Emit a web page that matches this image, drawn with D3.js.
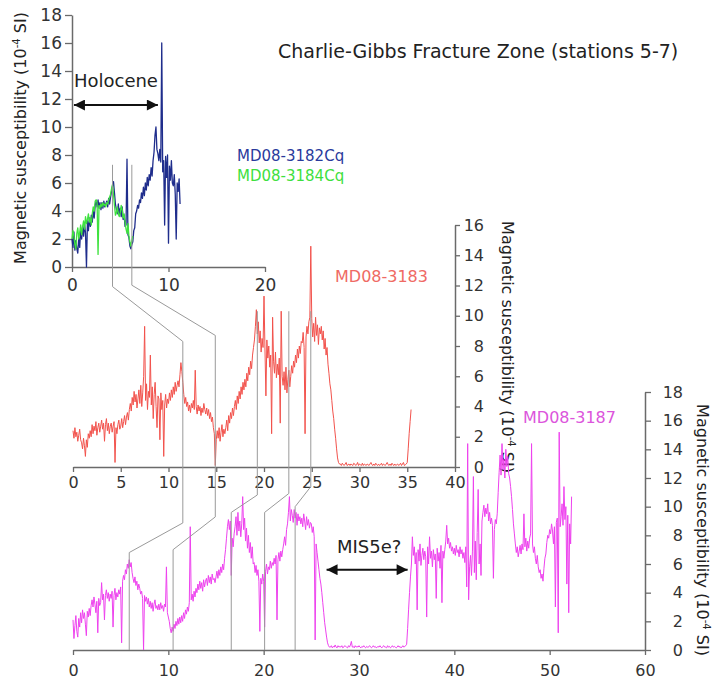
<!DOCTYPE html>
<html><head><meta charset="utf-8">
<script src="https://cdn.jsdelivr.net/npm/d3@7"></script>
<style>
body{margin:0;background:#fff;}
svg{display:block;font-family:"DejaVu Sans",Verdana,sans-serif;}
</style></head><body>
<svg id="chart" width="713" height="679"></svg>
<script>
// ---------- data ----------
const topTicksX = [0, 10, 20];
const topTicksY = [0, 2, 4, 6, 8, 10, 12, 14, 16, 18];
const midTicksX = [0, 5, 10, 15, 20, 25, 30, 35, 40];
const midTicksY = [0, 2, 4, 6, 8, 10, 12, 14, 16];
const botTicksX = [0, 10, 20, 30, 40, 50, 60];
const botTicksY = [0, 2, 4, 6, 8, 10, 12, 14, 16, 18];

// MD08-3182Cq (depth step 0.1 m from 0)
const step3182 = 0.1;
const md3182 = [
 2.0,1.4,2.5,1.2,1.9,1.3,
 1.0,2.1,1.4,2.7,2.0, 2.9,2.2,3.1,2.4,0.0, 3.3,2.6,3.5,2.9,3.7,
 3.2,4.0,3.5,4.4,4.7, 4.3,4.8,4.2,4.6,4.1, 4.6,4.2,4.7,4.3,4.5,
 4.7,4.3,4.9,4.5,5.0, 5.4,5.8,6.1,5.3,4.5, 4.1,3.8,4.5,3.7,4.2,
 3.6,4.3,3.4,3.7,2.9, 3.0,7.7,2.3,2.1,1.5, 1.3,1.6,1.8,2.6,2.8,
 3.8,4.0,4.4,4.2,4.8, 4.6,5.3,4.9,5.7,5.1, 6.0,5.5,6.4,5.8,6.6,
 6.2,7.1,6.5,7.6,8.2, 9.4,10.0,8.4,8.1,7.6, 8.4,7.5,16.0,6.8,7.6,
 3.0,7.9,6.4,8.0,1.7, 7.2,6.2,7.6,6.0,5.8, 6.6,5.2,2.0,6.0,5.4,
 6.3,4.5
];
// MD08-3184Cq (depth step 0.1 m from 0)
const step3184 = 0.1;
const md3184 = [
 2.0,2.6,2.2,1.6,1.3,2.4,
 2.8,2.0,2.5,3.0,2.3, 2.9,3.3,2.7,3.6,3.1, 3.4,3.8,3.2,3.5,3.0,
 3.8,4.3,4.0,4.7,4.8, 4.6,0.9,4.4,4.2,4.5, 4.3,4.6,4.4,4.5,4.3,
 4.6,4.5,4.8,5.0,5.2, 5.6,5.9,5.2,4.4,3.7, 3.9,4.3,3.8,3.6,3.9,
 4.4,4.1,3.5,3.8,3.2, 2.7,2.4,3.1,2.2,1.8, 1.5,1.9,2.2
];
// MD08-3183 (depth step 0.1 m from 0)
const step3183 = 0.1;
const md3183 = [
 2.4,1.9,2.6,2.0,2.3,1.7,2.1,2.5,1.8,1.6,
 1.2,1.9,1.4,0.7,1.8,1.3,2.2,1.9,2.4,2.0,
 2.8,2.2,2.7,2.4,3.0,2.1,2.6,2.9,2.3,2.7,
 3.1,2.5,2.9,1.7,2.8,3.2,2.4,2.9,2.2,2.7,
 2.9,2.3,2.7,3.0,0.3,2.6,2.2,2.8,3.1,2.5,
 2.7,3.2,2.6,3.0,3.4,2.8,3.3,3.6,3.1,3.8,
 4.2,3.7,4.6,4.1,5.0,4.3,4.8,3.9,4.5,5.1,
 4.2,5.4,4.0,4.9,6.0,9.3,4.4,5.5,3.8,5.0,
 4.6,7.4,4.1,5.3,3.2,4.8,5.6,4.0,2.6,4.7,
 4.5,1.8,4.9,3.8,4.4,0.7,4.1,4.8,3.9,4.5,
 4.2,4.9,4.4,5.1,4.6,5.3,4.8,5.6,5.0,5.4,
 5.7,5.3,6.1,6.9,6.3,5.6,4.8,4.2,4.6,4.0,
 4.3,3.7,4.1,3.6,4.2,3.9,4.4,3.8,6.4,4.0,
 3.5,4.1,3.7,4.0,3.4,3.9,3.6,4.2,3.8,3.5,
 3.9,3.4,3.8,3.2,3.6,3.0,3.3,2.6,2.2,0.1,
 1.8,2.4,1.9,2.6,1.7,2.3,2.8,2.0,2.5,2.2,
 2.6,3.1,2.4,3.4,2.9,3.6,3.2,3.9,3.4,4.0,
 4.4,3.8,4.7,4.2,5.0,4.5,5.3,4.8,5.6,5.1,
 5.8,5.3,6.2,5.7,6.6,6.1,7.0,6.5,7.4,7.9,
 8.4,9.3,10.4,8.8,9.6,8.2,9.0,7.6,8.5,7.9,
 11.3,7.8,4.7,8.4,7.2,8.0,6.6,7.4,2.2,9.9,
 7.0,6.2,7.6,5.9,6.8,6.1,7.2,2.9,10.3,6.0,
 5.4,6.3,5.1,6.6,4.9,5.8,6.4,5.3,6.0,6.7,
 6.2,7.0,6.6,7.4,6.9,7.8,7.2,8.0,7.5,8.3,
 8.2,8.9,7.9,2.2,8.6,9.3,8.8,9.6,9.9,14.6,
 9.8,8.6,9.5,8.3,9.9,8.7,9.4,8.1,9.2,8.8,
 9.3,8.4,9.0,7.8,8.5,7.4,7.9,6.8,6.2,5.5,
 5.1,4.4,3.7,3.2,2.5,1.9,1.2,0.6,0.3,0.2,
 0.2,0.1,0.25,0.15,0.1,0.2,0.3,0.1,0.15,0.2,
 0.1,0.2,0.15,0.1,0.25,0.2,0.1,0.15,0.3,0.1,
 0.2,0.15,0.1,0.25,0.1,0.2,0.15,0.1,0.2,0.15,
 0.1,0.2,0.3,0.15,0.1,0.2,0.1,0.25,0.15,0.1,
 0.2,0.1,0.15,0.25,0.1,0.2,0.15,0.1,0.2,0.3,
 0.15,0.1,0.2,0.1,0.25,0.15,0.1,0.2,0.1,0.15,
 0.2,0.1,0.15,0.25,0.1,0.2,0.3,0.1,0.15,0.2,
 0.3,1.2,2.2,3.0,3.8
];
// MD08-3187 (depth step 0.1 m from 0)
const step3187 = 0.1;
const md3187 = [
 2.1,0.8,1.7,2.4,1.3,0.9,2.2,1.6,2.6,1.9,
 2.8,2.2,2.6,1.8,1.0,2.7,2.3,2.9,2.4,3.1,
 3.5,3.0,3.7,3.2,2.6,3.4,1.2,3.6,3.1,3.3,
 4.7,3.5,3.9,2.1,3.8,4.2,3.6,4.0,3.4,3.9,
 3.6,4.1,1.6,3.8,4.3,3.5,4.0,3.7,4.2,3.9,
 4.4,0.5,4.8,5.2,4.9,5.6,5.3,6.0,5.7,6.3,
 5.8,6.1,5.4,5.0,4.7,5.1,4.5,4.8,4.2,4.6,
 4.3,3.9,4.1,3.6,0.0,3.8,3.4,3.7,3.2,3.6,
 3.0,3.4,2.9,3.3,2.7,3.2,3.5,2.9,3.1,2.8,
 3.2,2.8,3.3,2.9,3.1,2.7,3.2,3.0,5.8,2.6,
 2.3,2.0,1.5,1.2,1.6,1.3,1.8,1.5,2.0,1.7,
 2.2,1.8,2.3,1.9,2.4,2.0,2.6,2.2,2.8,2.5,
 3.0,2.7,3.3,8.6,3.5,3.9,3.4,4.1,3.7,4.3,
 4.0,4.6,4.2,4.8,4.3,4.7,4.1,4.9,4.4,4.8,
 5.0,4.5,5.2,4.7,5.1,4.6,5.3,4.9,5.0,4.7,
 5.1,5.5,5.0,5.6,5.2,5.8,5.4,6.0,5.6,6.4,
 7.0,7.8,8.6,9.1,8.4,9.0,5.2,7.8,7.2,8.1,
 8.6,9.3,8.0,9.6,8.3,9.0,7.9,8.8,10.7,8.4,
 9.2,7.6,8.5,7.1,8.0,6.8,7.5,6.4,7.2,6.0,
 6.1,5.4,5.9,5.2,5.6,4.8,1.3,5.0,4.6,5.3,
 4.8,1.6,5.5,6.0,5.3,5.8,5.6,6.2,5.7,6.1,
 5.9,6.4,6.0,6.6,2.1,6.3,6.8,6.2,6.9,6.5,
 7.0,7.4,7.9,7.3,8.4,8.8,9.6,10.7,9.0,9.8,
 9.4,8.9,9.8,9.2,9.6,8.7,9.5,9.0,9.3,8.8,
 9.2,8.6,9.5,9.0,8.4,9.3,8.7,9.1,8.5,8.9,
 8.8,8.2,8.6,7.9,0.7,7.4,6.8,6.2,5.6,5.0,
 4.6,4.0,3.3,2.6,1.9,1.4,0.9,0.5,0.3,0.2,
 0.2,0.3,0.15,0.25,0.2,0.35,0.2,0.15,0.3,0.2,
 0.25,0.2,0.3,0.15,0.2,0.3,0.25,0.2,0.15,0.3,
 0.2,0.35,0.6,0.2,0.25,0.15,0.3,0.2,0.25,0.2,
 0.3,0.2,0.15,0.25,0.2,0.3,0.2,0.15,0.25,0.2,
 0.2,0.3,0.25,0.15,0.2,0.3,0.2,0.25,0.15,0.2,
 0.25,0.2,0.3,0.2,0.15,0.25,0.3,0.2,0.2,0.15,
 0.3,0.2,0.25,0.15,0.2,0.3,0.2,0.25,0.2,0.15,
 0.2,0.3,0.2,0.25,0.15,0.2,0.3,0.2,0.25,0.3,
 0.4,1.5,2.8,4.0,5.1,6.0,7.9,6.6,7.2,6.0,
 6.8,2.8,7.0,6.2,7.4,5.9,6.6,7.1,6.3,6.9,
 6.5,2.3,7.2,6.0,7.9,6.4,6.9,5.8,7.0,6.3,
 6.7,3.6,7.1,6.2,6.8,5.7,7.3,3.3,6.9,6.4,
 7.0,7.6,8.7,7.4,7.8,7.1,7.5,6.9,7.2,6.7,
 7.1,6.6,7.3,6.8,7.0,6.5,7.2,6.7,7.0,6.4,
 6.8,6.1,7.2,4.4,14.4,3.5,5.8,6.6,5.2,6.9,
 12.1,5.4,7.6,4.9,8.2,11.2,6.0,7.4,5.2,9.0,
 9.6,10.1,9.3,9.9,9.5,10.2,9.0,9.6,8.8,9.2,
 8.7,5.0,8.4,9.1,8.8,9.5,11.0,12.4,13.6,12.2,
 14.4,12.6,13.3,12.0,14.0,12.8,13.5,12.3,12.0,11.4,
 10.7,9.8,8.8,8.1,7.4,6.8,7.2,6.5,6.9,7.3,
 6.7,7.4,7.0,9.5,7.2,7.8,6.9,7.6,7.1,7.8,
 8.1,14.4,7.4,6.8,7.2,6.4,6.0,6.6,5.8,5.4,
 5.6,5.0,5.3,4.8,5.7,6.4,6.7,7.5,8.0,7.8,
 8.4,8.1,8.8,8.3,7.4,8.6,3.0,8.9,9.2,1.2,
 15.2,8.6,9.3,10.2,8.7,11.4,9.1,10.0,4.6,9.4,
 2.6,8.8,7.4,10.7
];

// correlation tie points (depth in upper core -> depth in lower core)
const tiesTopMid = [[4.2, 11.5], [6.2, 14.9]];
const tiesMidBot = [[11.5, 5.9], [14.9, 10.5], [19.3, 16.6], [22.6, 20.1], [24.9, 23.3]];

const seriesNames = ["MD08-3182Cq", "MD08-3184Cq", "MD08-3183", "MD08-3187"];
const titleText = "Charlie-Gibbs Fracture Zone (stations 5-7)";

// ---------- drawing ----------
const svg = d3.select("#chart");
const C = {blue:"#1f2d8c", green:"#3fe23f", red:"#f2524c", mag:"#ee42ee",
           blueT:"#2a3a9c", greenT:"#3ee03e", redT:"#ef6a64", magT:"#dc55dc"};

const xT = d3.scaleLinear().domain([0,20]).range([72,265]);
const yT = d3.scaleLinear().domain([0,18]).range([267,15]);
const xM = d3.scaleLinear().domain([0,40]).range([73,455]);
const yM = d3.scaleLinear().domain([0,16]).range([467,225]);
const xB = d3.scaleLinear().domain([0,60]).range([73,645]);
const yB = d3.scaleLinear().domain([0,18]).range([650,392]);

function styleAxis(g, fs){
  g.select(".domain").attr("stroke","#6a6a6a").attr("stroke-width",1.5);
  g.selectAll(".tick line").attr("stroke","#6a6a6a").attr("stroke-width",1.3);
  g.selectAll(".tick text").attr("fill","#333").attr("font-size",fs)
   .attr("font-family","DejaVu Sans, Verdana, sans-serif");
}

// top axes
svg.append("g").attr("transform",`translate(0,${yT(0)})`)
  .call(d3.axisBottom(xT).tickValues(topTicksX).tickSize(5).tickSizeOuter(0).tickPadding(7))
  .call(g=>styleAxis(g,17));
svg.append("g").attr("transform",`translate(${xT(0)},0)`)
  .call(d3.axisLeft(yT).tickValues(topTicksY).tickSize(7).tickSizeOuter(0).tickPadding(3))
  .call(g=>styleAxis(g,17));

// middle axes
svg.append("g").attr("transform",`translate(0,${yM(0)})`)
  .call(d3.axisBottom(xM).tickValues(midTicksX).tickSize(5).tickSizeOuter(0).tickPadding(5))
  .call(g=>styleAxis(g,16));
svg.append("g").attr("transform",`translate(${xM(40)},0)`)
  .call(d3.axisRight(yM).tickValues(midTicksY).tickSize(5).tickSizeOuter(0))
  .call(g=>{styleAxis(g,16); g.selectAll(".tick text").attr("text-anchor","end").attr("x",29);});

// bottom axes
svg.append("g").attr("transform",`translate(0,${yB(0)})`)
  .call(d3.axisBottom(xB).tickValues(botTicksX).tickSize(5).tickSizeOuter(0).tickPadding(10))
  .call(g=>styleAxis(g,16));
svg.append("g").attr("transform",`translate(${xB(60)},0)`)
  .call(d3.axisRight(yB).tickValues(botTicksY).tickSize(6).tickSizeOuter(0))
  .call(g=>{styleAxis(g,16); g.selectAll(".tick text").attr("text-anchor","end").attr("x",38);});

// axis titles
function yTitle(x, y, rot){
  const t = svg.append("text").attr("transform",`translate(${x},${y}) rotate(${rot})`)
    .attr("text-anchor","middle").attr("font-size",16).attr("fill","#222");
  t.append("tspan").text("Magnetic susceptibility (10");
  t.append("tspan").attr("font-size",10).attr("dy",-6).text("-4");
  t.append("tspan").attr("dy",6).text(" SI)");
}
yTitle(26, 138, -90);
yTitle(502, 347, 90);
yTitle(697, 530, 90);

// series lines
function drawSeries(vals, step, xs, ys, color, w){
  const line = d3.line().x((d,i)=>xs(i*step)).y(d=>ys(d));
  svg.append("path").datum(vals).attr("d",line).attr("fill","none")
    .attr("stroke",color).attr("stroke-width",w).attr("stroke-linejoin","round");
}
drawSeries(md3183, step3183, xM, yM, C.red, 1);
drawSeries(md3187, step3187, xB, yB, C.mag, 1);
drawSeries(md3182, step3182, xT, yT, C.blue, 1.3);
drawSeries(md3184, step3184, xT, yT, C.green, 1.3);

// tie lines
const tieLine = d3.line();
const tieStyle = p => p.attr("fill","none").attr("stroke","#9a9a9a").attr("stroke-width",1);
const topBends = [[-1.4, 8.3], [-1.3, 8.7]];
tiesTopMid.forEach((t,i)=>{
  const pts = [[xT(t[0]), yT(7.3)], [xT(t[0]), yT(topBends[i][0])], [xM(t[1]), yM(topBends[i][1])], [xM(t[1]), yM(0)]];
  svg.append("path").attr("d", tieLine(pts)).call(tieStyle);
});
const midBends = [[10.3,-3.7,6.8],[10.3,-3.3,7.0],[10.3,-1.85,9.6],[10.3,-1.75,9.6],[10.3,-1.3,10.0]];
tiesMidBot.forEach((t,i)=>{
  const b = midBends[i];
  const startV = i < 2 ? 0 : b[0];
  const pts = [[xM(t[0]), yM(startV)], [xM(t[0]), yM(b[1])], [xB(t[1]), yB(b[2])], [xB(t[1]), yB(0)]];
  svg.append("path").attr("d", tieLine(pts)).call(tieStyle);
});

// arrows
const defs = svg.append("defs");
defs.append("marker").attr("id","ah").attr("viewBox","0 0 10 10").attr("refX",10).attr("refY",5)
  .attr("markerUnits","userSpaceOnUse").attr("markerWidth",13).attr("markerHeight",11)
  .attr("orient","auto-start-reverse")
  .append("path").attr("d","M0,0L10,5L0,10z").attr("fill","#111");
function arrow(x1,x2,y){
  svg.append("line").attr("x1",x1).attr("x2",x2).attr("y1",y).attr("y2",y)
    .attr("stroke","#111").attr("stroke-width",2)
    .attr("marker-start","url(#ah)").attr("marker-end","url(#ah)");
}
arrow(xT(0.2), xT(8.9), yT(11.57));
arrow(xB(26.6), xB(35.1), yB(5.6));

// texts
svg.append("text").attr("x",xT(0.2)).attr("y",87).attr("font-size",18).attr("fill","#222").text("Holocene");
svg.append("text").attr("x",337).attr("y",553).attr("font-size",18).attr("fill","#222").text("MIS5e?");
svg.append("text").attr("x",278).attr("y",58).attr("font-size",19).attr("fill","#222").text(titleText);
svg.append("text").attr("x",237).attr("y",161).attr("font-size",15).attr("fill",C.blueT).text(seriesNames[0]);
svg.append("text").attr("x",237).attr("y",181).attr("font-size",15).attr("fill",C.greenT).text(seriesNames[1]);
svg.append("text").attr("x",335).attr("y",282).attr("font-size",16).attr("fill",C.redT).text(seriesNames[2]);
svg.append("text").attr("x",523).attr("y",423).attr("font-size",16).attr("fill",C.magT).text(seriesNames[3]);
</script>
</body></html>
